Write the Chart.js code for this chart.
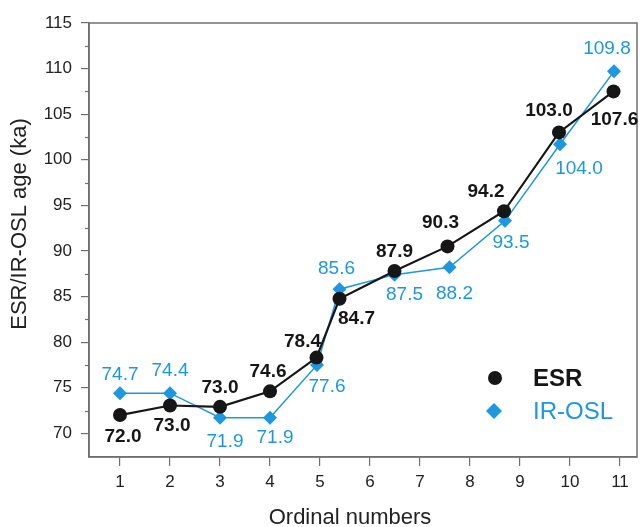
<!DOCTYPE html>
<html>
<head>
<meta charset="utf-8">
<script src="https://cdn.jsdelivr.net/npm/chart.js@4.4.1/dist/chart.umd.min.js"></script>
<style>
  html, body { margin: 0; padding: 0; background: #fff; }
  #wrap { width: 644px; height: 527px; }
</style>
</head>
<body>
<div id="wrap"><canvas id="ageChart" width="644" height="527"></canvas></div>
<script>
// ====================================
// DATA
// ====================================

const xTicks = [1, 2, 3, 4, 5, 6, 7, 8, 9, 10, 11];
const yTicks = [70, 75, 80, 85, 90, 95, 100, 105, 110, 115];
const yMinorTicks = [72.5, 77.5, 82.5, 87.5, 92.5, 97.5, 102.5, 107.5, 112.5];

const esrX = [1, 2, 3, 4, 4.93, 5.39, 6.49, 7.55, 8.68, 9.78, 10.87];
const esrY = [72.0, 73.05, 72.9, 74.6, 78.3, 84.75, 87.8, 90.5, 94.35, 103.0, 107.5];
const esrText = ['72.0', '73.0', '73.0', '74.6', '78.4', '84.7', '87.9', '90.3', '94.2', '103.0', '107.6'];

const oslX = [1, 2, 3, 4, 4.94, 5.39, 6.49, 7.59, 8.70, 9.80, 10.88];
const oslY = [74.4, 74.4, 71.7, 71.7, 77.5, 85.8, 87.4, 88.2, 93.3, 101.7, 109.7];
const oslText = ['74.7', '74.4', '71.9', '71.9', '77.6', '85.6', '87.5', '88.2', '93.5', '104.0', '109.8'];

// ====================================
// STYLE
// ====================================

const FONT = "'Liberation Sans', Arial, Helvetica, sans-serif";
const BLACK = '#161616';
const BLUE = '#1c97e0';
const FRAME = '#707070';

// label placement around each point (dx, dy in px)
const esrOffsets = [[3,22],[2,20],[0,-19],[-2,-20],[-14,-16],[17,20],[0,-19],[-7,-24],[-18,-20],[-10,-22],[1,28]];
const oslOffsets = [[0,-18],[0,-22],[5,24],[5,20],[10,22],[-3,-20],[10,20],[5,26],[6,22],[19,25],[-7,-23]];

const toPoints = (xs, ys) => xs.map((x, i) => ({ x: x, y: ys[i] }));

// ====================================
// EXTRAS: frame, minor ticks, labels, legend, titles
// ====================================

const extrasPlugin = {
    id: 'extras',
    afterDraw(chart) {
        const ctx = chart.ctx;
        const area = chart.chartArea;
        const yScale = chart.scales.y;

        ctx.save();

        // frame
        ctx.strokeStyle = FRAME;
        ctx.lineWidth = 1.5;
        ctx.strokeRect(area.left, area.top, area.right - area.left, area.bottom - area.top);

        // minor ticks on y
        ctx.lineWidth = 1.2;
        yMinorTicks.forEach(v => {
            const py = Math.round(yScale.getPixelForValue(v)) + 0.5;
            ctx.beginPath();
            ctx.moveTo(area.left - 4, py);
            ctx.lineTo(area.left, py);
            ctx.stroke();
        });

        // point labels
        ctx.textAlign = 'center';
        ctx.textBaseline = 'middle';

        const drawLabels = (dsIndex, texts, offsets, font, color) => {
            const meta = chart.getDatasetMeta(dsIndex);
            ctx.font = font;
            ctx.fillStyle = color;
            meta.data.forEach((pt, i) => {
                ctx.fillText(texts[i], pt.x + offsets[i][0], pt.y + offsets[i][1]);
            });
        };

        drawLabels(1, oslText, oslOffsets, '19px ' + FONT, BLUE);
        drawLabels(0, esrText, esrOffsets, 'bold 19px ' + FONT, BLACK);

        // legend
        ctx.fillStyle = BLACK;
        ctx.beginPath();
        ctx.arc(495, 378, 7, 0, Math.PI * 2);
        ctx.fill();

        ctx.fillStyle = BLUE;
        ctx.beginPath();
        ctx.moveTo(494, 411 - 8);
        ctx.lineTo(494 + 8, 411);
        ctx.lineTo(494, 411 + 8);
        ctx.lineTo(494 - 8, 411);
        ctx.closePath();
        ctx.fill();

        ctx.textAlign = 'left';
        ctx.font = 'bold 24px ' + FONT;
        ctx.fillStyle = BLACK;
        ctx.fillText('ESR', 533, 379);
        ctx.font = '24px ' + FONT;
        ctx.fillStyle = BLUE;
        ctx.fillText('IR-OSL', 533, 412);

        // axis titles
        ctx.fillStyle = '#222';
        ctx.font = '22px ' + FONT;
        ctx.textAlign = 'center';
        ctx.fillText('Ordinal numbers', 350, 518);

        ctx.translate(20, 224);
        ctx.rotate(-Math.PI / 2);
        ctx.fillText('ESR/IR-OSL age (ka)', 0, 0);

        ctx.restore();
    }
};

// ====================================
// CHART
// ====================================

const ctxAge = document.getElementById('ageChart').getContext('2d');
const ageChart = new Chart(ctxAge, {
    type: 'scatter',
    data: {
        datasets: [
            {
                label: 'ESR',
                data: toPoints(esrX, esrY),
                showLine: true,
                borderColor: BLACK,
                borderWidth: 2.2,
                backgroundColor: BLACK,
                pointStyle: 'circle',
                pointRadius: 7,
                pointHoverRadius: 7,
                pointBorderWidth: 0,
                order: 1
            },
            {
                label: 'IR-OSL',
                data: toPoints(oslX, oslY),
                showLine: true,
                borderColor: BLUE,
                borderWidth: 1.5,
                backgroundColor: BLUE,
                pointStyle: 'rectRot',
                pointRadius: 7,
                pointHoverRadius: 7,
                pointBorderWidth: 0,
                order: 2
            }
        ]
    },
    options: {
        responsive: false,
        animation: false,
        layout: {
            padding: { top: 23, right: 3, bottom: 0, left: 0 }
        },
        plugins: {
            legend: { display: false },
            tooltip: { enabled: false }
        },
        scales: {
            x: {
                type: 'linear',
                min: 0.38,
                max: 11.34,
                afterBuildTicks: scale => {
                    scale.ticks = xTicks.map(v => ({ value: v }));
                },
                afterFit: scale => { scale.height = 70; },
                grid: {
                    display: true,
                    drawOnChartArea: false,
                    drawTicks: true,
                    tickLength: 9,
                    color: FRAME,
                    lineWidth: 1.2
                },
                border: { display: true, color: FRAME, width: 1.5 },
                ticks: {
                    padding: 6,
                    color: '#222',
                    font: { family: FONT, size: 17 },
                    callback: v => String(v)
                }
            },
            y: {
                min: 67.4,
                max: 115,
                afterBuildTicks: scale => {
                    scale.ticks = yTicks.map(v => ({ value: v }));
                },
                afterFit: scale => { scale.width = 89; },
                grid: {
                    display: true,
                    drawOnChartArea: false,
                    drawTicks: true,
                    tickLength: 8,
                    color: FRAME,
                    lineWidth: 1.2
                },
                border: { display: true, color: FRAME, width: 1.5 },
                ticks: {
                    padding: 9,
                    color: '#222',
                    font: { family: FONT, size: 17 },
                    callback: v => String(v)
                }
            }
        }
    },
    plugins: [extrasPlugin]
});
</script>
</body>
</html>
